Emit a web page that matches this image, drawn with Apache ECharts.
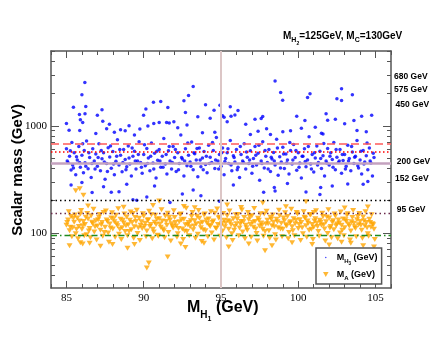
<!DOCTYPE html>
<html>
<head>
<meta charset="utf-8">
<script src="https://cdn.jsdelivr.net/npm/echarts@6/dist/echarts.min.js"></script>
<style>
html,body{margin:0;padding:0;background:#fff;}
#main{width:440px;height:340px;}
</style>
</head>
<body>
<div id="main"></div>
<script>
// ---- data ----
var xMajor = [85, 90, 95, 100, 105];
var xMinor = [84,85,86,87,88,89,90,91,92,93,94,95,96,97,98,99,100,101,102,103,104,105,106];
var yMajor = [100, 1000];
var yMinor = [40,50,60,70,80,90,200,300,400,500,600,700,800,900,2000,3000,4000,5000];

// reference lines (GeV)
var hLines = [680, 575, 450, 200, 152, 95];
var hLabels = ['680 GeV', '575 GeV', '450 GeV', '200 GeV', '152 GeV', '95 GeV'];
var vLine = 95;

// M_H3 points, bulk
var blueCore = [
[85.0,612],[85.1,455],[85.2,520],[85.3,388],[85.35,700],[85.4,432],[85.5,560],[85.6,350],[85.7,480],[85.8,640],[85.9,410],
[86.0,530],[86.1,365],[86.15,590],[86.2,452],[86.3,720],[86.4,398],[86.5,505],[86.6,330],[86.7,610],[86.8,470],[86.9,545],
[87.0,420],[87.1,680],[87.2,380],[87.3,492],[87.4,560],[87.5,318],[87.6,445],[87.7,625],[87.8,512],[87.9,402],
[88.0,575],[88.1,350],[88.2,468],[88.3,740],[88.4,430],[88.5,530],[88.6,372],[88.7,600],[88.8,485],[88.9,415],
[89.0,650],[89.1,440],[89.2,340],[89.3,520],[89.4,580],[89.5,395],[89.6,470],[89.7,710],[89.8,455],[89.9,360],
[90.0,540],[90.1,425],[90.2,615],[90.3,500],[90.4,380],[90.5,690],[90.6,450],[90.7,555],[90.8,325],[90.9,478],
[91.0,600],[91.1,410],[91.2,520],[91.3,760],[91.4,440],[91.5,355],[91.6,585],[91.7,470],[91.8,395],[91.9,640],
[92.0,505],[92.1,375],[92.2,560],[92.3,445],[92.4,820],[92.5,490],[92.6,340],[92.7,610],[92.8,425],[92.9,530],
[93.0,460],[93.1,705],[93.2,390],[93.3,550],[93.4,480],[93.5,335],[93.6,620],[93.7,415],[93.8,500],[93.9,575],
[94.0,435],[94.1,365],[94.2,660],[94.3,510],[94.4,455],[94.5,590],[94.6,400],[94.7,780],[94.8,470],[94.9,540],
[95.0,420],[95.1,620],[95.2,350],[95.3,495],[95.4,560],[95.5,445],[95.6,730],[95.7,380],[95.8,525],[95.9,460],
[96.0,600],[96.1,410],[96.2,330],[96.3,540],[96.4,470],[96.5,680],[96.6,395],[96.7,510],[96.8,445],[96.9,585],
[97.0,360],[97.1,495],[97.2,640],[97.3,430],[97.4,555],[97.5,310],[97.6,470],[97.7,710],[97.8,405],[97.9,520],
[98.0,455],[98.1,600],[98.2,375],[98.3,490],[98.4,565],[98.5,430],[98.6,750],[98.7,345],[98.8,515],[98.9,460],
[99.0,630],[99.1,400],[99.2,545],[99.3,480],[99.4,355],[99.5,590],[99.6,440],[99.7,670],[99.8,505],[99.9,385],
[100.0,560],[100.1,450],[100.2,325],[100.3,520],[100.4,610],[100.5,415],[100.6,480],[100.7,790],[100.8,440],[100.9,540],
[101.0,370],[101.1,500],[101.2,650],[101.3,455],[101.4,580],[101.5,400],[101.6,525],[101.7,340],[101.8,470],[101.9,615],
[102.0,430],[102.1,560],[102.2,485],[102.3,700],[102.4,390],[102.5,510],[102.6,455],[102.7,600],[102.8,360],[102.9,475],
[103.0,540],[103.1,420],[103.2,660],[103.3,495],[103.4,380],[103.5,570],[103.6,445],[103.7,520],[103.8,730],[103.9,405],
[104.0,480],[104.1,355],[104.2,590],[104.3,460],[104.4,525],[104.5,390],[104.6,620],[104.7,450],[104.8,340],[104.9,505],
[85.05,470],[85.25,585],[85.45,405],[85.65,515],[85.85,455],[86.05,680],[86.25,420],[86.45,560],[86.65,445],[86.85,395],
[87.05,505],[87.25,590],[87.45,460],[87.65,375],[87.85,650],[88.05,440],[88.25,520],[88.45,600],[88.65,455],[88.85,390],
[89.05,500],[89.25,620],[89.45,470],[89.65,540],[89.85,410],[90.05,665],[90.25,445],[90.45,520],[90.65,395],[90.85,580],
[91.05,470],[91.25,410],[91.45,540],[91.65,640],[91.85,455],[92.05,600],[92.25,390],[92.45,505],[92.65,470],[92.85,690],
[93.05,420],[93.25,560],[93.45,615],[93.65,480],[93.85,390],[94.05,520],[94.25,445],[94.45,700],[94.65,480],[94.85,395],
[95.05,560],[95.25,465],[95.45,610],[95.65,430],[95.85,505],[96.05,390],[96.25,640],[96.45,455],[96.65,570],[96.85,480],
[97.05,420],[97.25,530],[97.45,660],[97.65,445],[97.85,590],[98.05,395],[98.25,510],[98.45,470],[98.65,620],[98.85,405],
[99.05,545],[99.25,450],[99.45,700],[99.65,480],[99.85,590],[100.05,410],[100.25,520],[100.45,465],[100.65,640],[100.85,395],
[101.05,560],[101.25,430],[101.45,495],[101.65,685],[101.85,450],[102.05,520],[102.25,410],[102.45,600],[102.65,470],[102.85,540],
[103.05,395],[103.25,470],[103.45,640],[103.65,510],[103.85,425],[104.05,580],[104.25,440],[104.45,690],[104.65,470],[104.85,555]
];
// M_H3 points, upper tail
var blueHigh = [
[86.19,2540],[86.0,1950],[85.45,1495],[86.25,1515],[85.84,1275],[86.2,1295],[85.9,1138],[86.05,1073],[87.0,1259],[87.3,1411],
[87.35,1106],[87.78,1037],[85.0,1051],[85.17,911],[85.86,904],[88.5,918],[88.8,898],[89.05,1000],[89.75,932],[89.99,1259],
[90.14,1435],[90.63,1665],[91.1,1688],[90.27,995],[90.65,1051],[91.0,1073],[91.56,1482],[91.48,1073],[91.65,1065],[91.95,1090],
[92.6,1712],[92.9,1920],[93.2,2330],[92.7,1331],[92.8,1021],[93.5,1214],[94.0,1571],[94.3,1180],[94.55,1402],[94.93,1561],
[95.1,1240],[98.5,2618],[98.86,2049],[98.99,1738],[102.8,2217],[103.5,1950],[100.6,1840],[100.76,1990],[102.5,1790],[102.8,1724],
[95.6,1505],[95.2,1205],[95.65,1230],[96.1,1390],[95.4,1095],[95.9,1260],[96.6,1037],[97.2,1150],[97.6,1170],[97.7,1220],
[97.95,937],[99.0,880],[99.9,1230],[100.43,1120],[101.1,972],[101.5,855],[101.8,1295],[101.9,1127],[102.4,1155],[103.0,1045],
[103.6,1120],[104.1,1230],[104.75,1259],[103.8,905],[86.9,850],[88.1,870],[89.4,820],[93.8,860],[96.9,830],[99.5,900],
[101.6,840],[104.4,880],[87.6,940],[92.2,960],[97.4,890],[100.2,950],[98.2,830],[94.6,870]
];
// M_H3 points, lower tail
var blueLow = [
[86.66,238],[87.9,240],[88.4,242],[89.3,204],[89.55,202],[90.2,216],[91.7,192],[92.5,231],[93.2,252],[93.7,222],
[94.9,198],[97.76,240],[98.5,247],[98.45,266],[100.5,241],[101.4,228],[101.45,265],[103.2,287],[104.5,302],[85.3,280],
[86.0,295],[87.4,270],[88.9,285],[90.7,275],[95.8,280],[99.3,290],[102.2,275],[104.2,285]
];

// M_A points, bulk
var orangeCore = [
[85.0,118],[85.1,132],[85.2,105],[85.3,142],[85.4,112],[85.5,126],[85.6,98],[85.7,138],[85.8,115],[85.9,150],
[86.0,108],[86.1,128],[86.2,120],[86.3,96],[86.4,135],[86.5,110],[86.6,145],[86.7,122],[86.8,102],[86.9,130],
[87.0,116],[87.1,140],[87.2,106],[87.3,125],[87.4,155],[87.5,113],[87.6,132],[87.7,100],[87.8,121],[87.9,138],
[88.0,109],[88.1,127],[88.2,146],[88.3,117],[88.4,97],[88.5,134],[88.6,112],[88.7,124],[88.8,103],[88.9,141],
[89.0,119],[89.1,131],[89.2,107],[89.3,152],[89.4,114],[89.5,128],[89.6,99],[89.7,137],[89.8,118],[89.9,110],
[90.0,143],[90.1,123],[90.2,104],[90.3,133],[90.4,115],[90.5,148],[90.6,108],[90.7,126],[90.8,120],[90.9,95],
[91.0,136],[91.1,113],[91.2,129],[91.3,105],[91.4,144],[91.5,118],[91.6,101],[91.7,132],[91.8,122],[91.9,111],
[92.0,139],[92.1,116],[92.2,98],[92.3,127],[92.4,150],[92.5,109],[92.6,134],[92.7,119],[92.8,103],[92.9,125],
[93.0,114],[93.1,142],[93.2,107],[93.3,130],[93.4,121],[93.5,97],[93.6,137],[93.7,112],[93.8,126],[93.9,147],
[94.0,105],[94.1,123],[94.2,135],[94.3,115],[94.4,100],[94.5,129],[94.6,153],[94.7,110],[94.8,120],[94.9,140],
[95.0,117],[95.1,104],[95.2,131],[95.3,124],[95.4,145],[95.5,108],[95.6,127],[95.7,98],[95.8,136],[95.9,115],
[96.0,122],[96.1,149],[96.2,111],[96.3,128],[96.4,102],[96.5,139],[96.6,118],[96.7,106],[96.8,133],[96.9,120],
[97.0,145],[97.1,113],[97.2,128],[97.3,99],[97.4,137],[97.5,116],[97.6,124],[97.7,108],[97.8,150],[97.9,121],
[98.0,131],[98.1,105],[98.2,140],[98.3,117],[98.4,126],[98.5,96],[98.6,134],[98.7,112],[98.8,145],[98.9,123],
[99.0,108],[99.1,130],[99.2,119],[99.3,142],[99.4,101],[99.5,127],[99.6,114],[99.7,136],[99.8,122],[99.9,155],
[100.0,110],[100.1,133],[100.2,125],[100.3,98],[100.4,140],[100.5,117],[100.6,129],[100.7,106],[100.8,147],[100.9,120],
[101.0,113],[101.1,136],[101.2,124],[101.3,103],[101.4,131],[101.5,118],[101.6,142],[101.7,109],[101.8,127],[101.9,99],
[102.0,138],[102.1,115],[102.2,126],[102.3,107],[102.4,144],[102.5,121],[102.6,132],[102.7,100],[102.8,118],[102.9,135],
[103.0,112],[103.1,128],[103.2,151],[103.3,116],[103.4,104],[103.5,139],[103.6,123],[103.7,110],[103.8,133],[103.9,119],
[104.0,128],[104.1,106],[104.2,141],[104.3,117],[104.4,125],[104.5,98],[104.6,134],[104.7,113],[104.8,122],[104.9,108],
[85.05,125],[85.25,113],[85.45,137],[85.65,108],[85.85,129],[86.05,117],[86.25,140],[86.45,104],[86.65,126],[86.85,114],
[87.05,133],[87.25,119],[87.45,101],[87.65,128],[87.85,111],[88.05,136],[88.25,122],[88.45,108],[88.65,131],[88.85,117],
[89.05,103],[89.25,125],[89.45,139],[89.65,112],[89.85,127],[90.05,115],[90.25,131],[90.45,120],[90.65,102],[90.85,134],
[91.05,121],[91.25,109],[91.45,128],[91.65,140],[91.85,116],[92.05,125],[92.25,110],[92.45,133],[92.65,104],[92.85,119],
[93.05,130],[93.25,116],[93.45,143],[93.65,122],[93.85,107],[94.05,132],[94.25,118],[94.45,125],[94.65,111],[94.85,138],
[95.05,123],[95.25,114],[95.45,130],[95.65,119],[95.85,106],[96.05,135],[96.25,121],[96.45,127],[96.65,112],[96.85,142],
[97.05,125],[97.25,109],[97.45,131],[97.65,118],[97.85,103],[98.05,122],[98.25,134],[98.45,114],[98.65,127],[98.85,109],
[99.05,138],[99.25,116],[99.45,124],[99.65,105],[99.85,131],[100.05,120],[100.25,112],[100.45,137],[100.65,123],[100.85,108],
[101.05,129],[101.25,115],[101.45,126],[101.65,119],[101.85,141],[102.05,111],[102.25,130],[102.45,117],[102.65,124],[102.85,106],
[103.05,133],[103.25,121],[103.45,127],[103.65,114],[103.85,142],[104.05,118],[104.25,130],[104.45,112],[104.65,125],[104.85,119],
[85.15,158],[85.35,92],[85.55,147],[85.75,88],[85.95,162],[86.15,94],[86.35,152],[86.55,90],[86.75,166],[86.95,86],
[87.15,149],[87.35,93],[87.55,160],[87.75,82],[87.95,154],[88.15,91],[88.35,168],[88.55,87],[88.75,150],[88.95,94],
[89.15,157],[89.35,89],[89.55,163],[89.75,85],[89.95,151],[90.15,92],[90.35,159],[90.55,88],[90.75,146],[90.95,93],
[91.15,165],[91.35,90],[91.55,153],[91.75,84],[91.95,161],[92.15,91],[92.35,148],[92.55,87],[92.75,170],[92.95,94],
[93.15,155],[93.35,89],[93.55,162],[93.75,83],[93.95,150],[94.15,92],[94.35,158],[94.55,86],[94.75,167],[94.95,93],
[95.15,152],[95.35,90],[95.55,160],[95.75,85],[95.95,148],[96.15,94],[96.35,164],[96.55,88],[96.75,155],[96.95,91],
[97.15,169],[97.35,84],[97.55,151],[97.75,93],[97.95,159],[98.15,89],[98.35,147],[98.55,86],[98.75,163],[98.95,92],
[99.15,154],[99.35,88],[99.55,166],[99.75,94],[99.95,150],[100.15,85],[100.35,158],[100.55,91],[100.75,149],[100.95,87],
[101.15,161],[101.35,93],[101.55,153],[101.75,84],[101.95,165],[102.15,90],[102.35,150],[102.55,88],[102.75,157],[102.95,94],
[103.15,146],[103.35,86],[103.55,162],[103.75,92],[103.95,152],[104.15,89],[104.35,158],[104.55,93],[104.75,148],[104.95,87]
];
// M_A points, tails
var orangeTail = [
[85.6,248],[85.86,258],[86.1,225],[91.0,199],[97.7,190],[100.5,195],[101.0,155],
[86.4,178],[88.7,174],[90.6,180],[93.3,172],[95.4,182],[99.2,176],[103.0,171],[104.5,175],[92.6,177],[96.3,173],
[90.2,47],[90.33,52.5],[91.55,59.7],[88.95,72],[85.2,76],[86.05,79],[86.5,80],[87.98,78],[92.7,73],[92.4,79],
[97.85,68],[102.0,77],[85.9,81],[87.2,75],[89.4,78],[93.9,80],[95.5,74],[96.8,79],[98.3,76],[99.6,81],
[100.9,78],[103.4,80],[104.2,76],[102.8,82],[104.9,74]
];

var chart = echarts.init(document.getElementById('main'));

var frame = {show: true, lineStyle: {color: '#555', width: 1.5}};
var noLine = {show: false};
var tickStyle = {color: '#555', width: 1};
var labelFont = {fontFamily: 'Liberation Serif', fontSize: 11, color: '#000'};

function xAx(pos, ticks, len, withLabel, line) {
  return {
    type: 'value', position: pos, min: 84, max: 106, gridIndex: 0,
    axisLine: line ? frame : noLine,
    axisTick: {show: true, inside: true, length: len, lineStyle: tickStyle, customValues: ticks},
    axisLabel: withLabel ? Object.assign({show: true, customValues: xMajor, margin: 5}, labelFont) : {show: false},
    splitLine: {show: false}
  };
}
function yAx(pos, ticks, len, withLabel, line) {
  return {
    type: 'log', logBase: 10, position: pos, min: 30.6, max: 5000, gridIndex: 0,
    axisLine: line ? frame : noLine,
    axisTick: {show: true, inside: true, length: len, lineStyle: tickStyle, customValues: ticks},
    axisLabel: withLabel ? Object.assign({
      show: true, customValues: yMajor, margin: 4,
      formatter: function (v) { return String(Math.round(v)); }
    }, labelFont) : {show: false},
    splitLine: {show: false}
  };
}

var lineStyles = [
  {color: '#ff5a5a', type: [8, 4], width: 1.5},
  {color: '#ff0000', type: [1.5, 2.5], width: 1.5},
  {color: '#c4a2bf', type: 'solid', width: 2.5},
  {color: '#000000', type: [1.5, 3], width: 1.3},
  {color: '#6a2a4a', type: [1.5, 3], width: 1.3},
  {color: '#1f8a1f', type: [6, 3, 1.5, 3], width: 1.3}
];
var markData = hLines.map(function (v, i) {
  return {yAxis: v, lineStyle: lineStyles[i]};
});
markData.push({xAxis: vLine, lineStyle: {color: '#dcc6c6', type: 'solid', width: 2}});

var triPath = 'path://M0,0 L10,0 L5,9 Z';
// small dot inside a larger empty box, so the legend dot stays small
var dotPath = 'path://M0,0 M10,10 M5,3.6 A1.4,1.4 0 1,1 5,6.4 A1.4,1.4 0 1,1 5,3.6 Z';

var sub = function (size, pad) {
  return {fontFamily: 'Liberation Sans', fontWeight: 'bold', fontSize: size, color: '#000',
    verticalAlign: 'top', padding: [pad, 0, 0, 0], lineHeight: size};
};

var option = {
  animation: false,
  backgroundColor: '#fff',
  grid: {left: 51, top: 51, width: 340, height: 237, containLabel: false, outerBoundsMode: 'none'},
  xAxis: [
    xAx('bottom', xMajor, 7, true, true),
    xAx('bottom', xMinor, 4, false, false),
    xAx('top', xMajor, 7, false, true),
    xAx('top', xMinor, 4, false, false)
  ],
  yAxis: [
    yAx('left', yMajor, 8, true, true),
    yAx('left', yMinor, 4, false, false),
    yAx('right', yMajor, 8, false, true),
    yAx('right', yMinor, 4, false, false)
  ],
  legend: {
    left: 316, top: 248, orient: 'vertical',
    padding: [5, 4, 3, 7], itemGap: 4, itemWidth: 6, itemHeight: 5,
    backgroundColor: '#fff', borderColor: '#555', borderWidth: 1.5, borderRadius: 0,
    data: [{name: 'MH3', icon: dotPath}, {name: 'MA', icon: triPath}],
    formatter: function (name) {
      return name === 'MH3' ? '{m|M}{s|H}{t|3}{m| (GeV)}' : '{m|M}{s|A}{m| (GeV)}';
    },
    textStyle: {
      padding: [0, 0, 0, 3],
      rich: {
        m: sub(9, 0),
        s: sub(6, 5),
        t: sub(4.5, 8)
      }
    }
  },
  series: [
    {
      name: 'refs', type: 'scatter', data: [], z: 1, silent: true,
      markLine: {silent: true, symbol: ['none', 'none'], label: {show: false}, animation: false, data: markData}
    },
    {
      name: 'MH3', type: 'scatter', z: 3, symbol: 'circle', symbolSize: 3.5,
      itemStyle: {color: '#0000ff'},
      data: blueCore.concat(blueHigh, blueLow)
    },
    {
      name: 'MA', type: 'scatter', z: 3, symbol: triPath, symbolSize: [6, 5],
      itemStyle: {color: '#ffa500'},
      data: orangeCore.concat(orangeTail)
    }
  ],
  graphic: [
    {
      type: 'text', left: 283, top: 31,
      style: {
        text: '{b|M}{s|H}{t|2}{b|=125GeV, M}{s|C}{b|=130GeV}',
        rich: {b: sub(10, 0), s: sub(7, 6), t: sub(5, 10)}
      }
    },
    {
      type: 'text', left: 187, top: 300,
      style: {
        text: '{b|M}{s|H}{t|1}{b| (GeV)}',
        rich: {b: sub(16, 0), s: sub(10, 10), t: sub(7, 16)}
      }
    },
    {
      type: 'text', x: 18, y: 170, rotation: Math.PI / 2,
      style: {
        text: 'Scalar mass (GeV)', fill: '#000', align: 'center', verticalAlign: 'middle',
        font: 'bold 15px "Liberation Sans"'
      }
    }
  ].concat(hLabels.map(function (t, i) {
    var ys = [76.7, 89.3, 105, 162, 178.7, 210];
    var xs = [394, 394, 395.5, 396.7, 395, 396.7];
    return {
      type: 'text', x: xs[i], y: ys[i],
      style: {text: t, fill: '#000', verticalAlign: 'middle', font: 'bold 8.5px "Liberation Sans"'}
    };
  }))
};

chart.setOption(option);
</script>
</body>
</html>
